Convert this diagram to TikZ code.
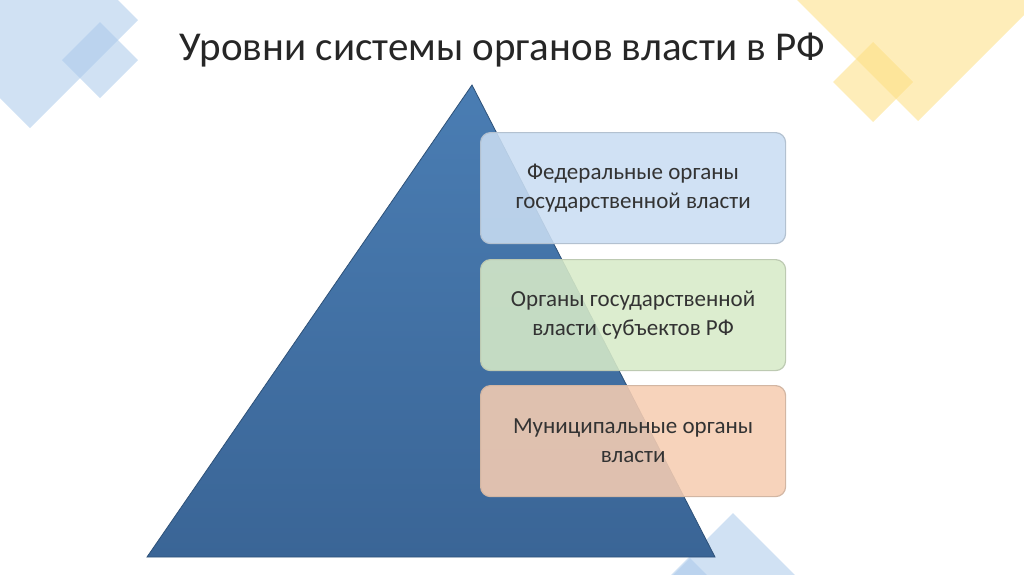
\documentclass[tikz,border=0pt]{standalone}
\usepackage{fontspec}
\setmainfont{Carlito}
\definecolor{decoblue}{HTML}{A9C8EA}
\definecolor{decoyel}{HTML}{FDDE80}
\definecolor{tritop}{HTML}{4A7DB3}
\definecolor{tribot}{HTML}{3A6596}
\definecolor{bxblue}{HTML}{C9DDF2}
\definecolor{bxgreen}{HTML}{D7EAC8}
\definecolor{bxorange}{HTML}{F6CDB2}
\begin{document}
\begin{tikzpicture}[x=1pt,y=-1pt,
  box/.style={draw=#1, line width=1.2pt, rounded corners=10pt, minimum width=305pt, minimum height=111pt, align=center, font=\fontsize{23}{29}\selectfont, text=black!80, anchor=north west},
  deco/.style={fill=#1, fill opacity=0.55}]
\useasboundingbox (0,0) rectangle (1024,574);
\begin{scope}
\clip (0,0) rectangle (1024,574);
\fill[deco=decoblue] (138,20) -- (30,128) -- (-78,20) -- (30,-88) -- cycle;
\fill[deco=decoblue] (138,60) -- (100,98) -- (62,60) -- (100,22) -- cycle;
\fill[deco=decoyel] (1039,0) -- (918,121) -- (797,0) -- (918,-121) -- cycle;
\fill[deco=decoyel] (913,82) -- (873,122) -- (833,82) -- (873,42) -- cycle;
\fill[deco=decoblue] (733,513) -- (833,613) -- (633,613) -- cycle;
\fill[deco=decoblue] (690,558) -- (740,608) -- (640,608) -- cycle;
\end{scope}
\node[font=\fontsize{41}{48}\selectfont, text=black!85, anchor=base west] (title) at (176,60) {Уровни системы органов власти в РФ};
\draw[draw=tribot!80!black, line width=0.8pt, top color=tritop, bottom color=tribot] (472,85) coordinate (apex) -- (715,557) coordinate (br) -- (147,557) coordinate (bl) -- cycle;
\node[box=bxblue!70!gray, fill=bxblue, fill opacity=0.88, text opacity=1] (f) at (480,132) {Федеральные органы\\государственной власти};
\node[box=bxgreen!70!gray, fill=bxgreen, fill opacity=0.88, text opacity=1] (r) at (480,259) {Органы государственной\\власти субъектов РФ};
\node[box=bxorange!70!gray, fill=bxorange, fill opacity=0.88, text opacity=1] (m) at (480,385) {Муниципальные органы\\власти};
\end{tikzpicture}
\end{document}
